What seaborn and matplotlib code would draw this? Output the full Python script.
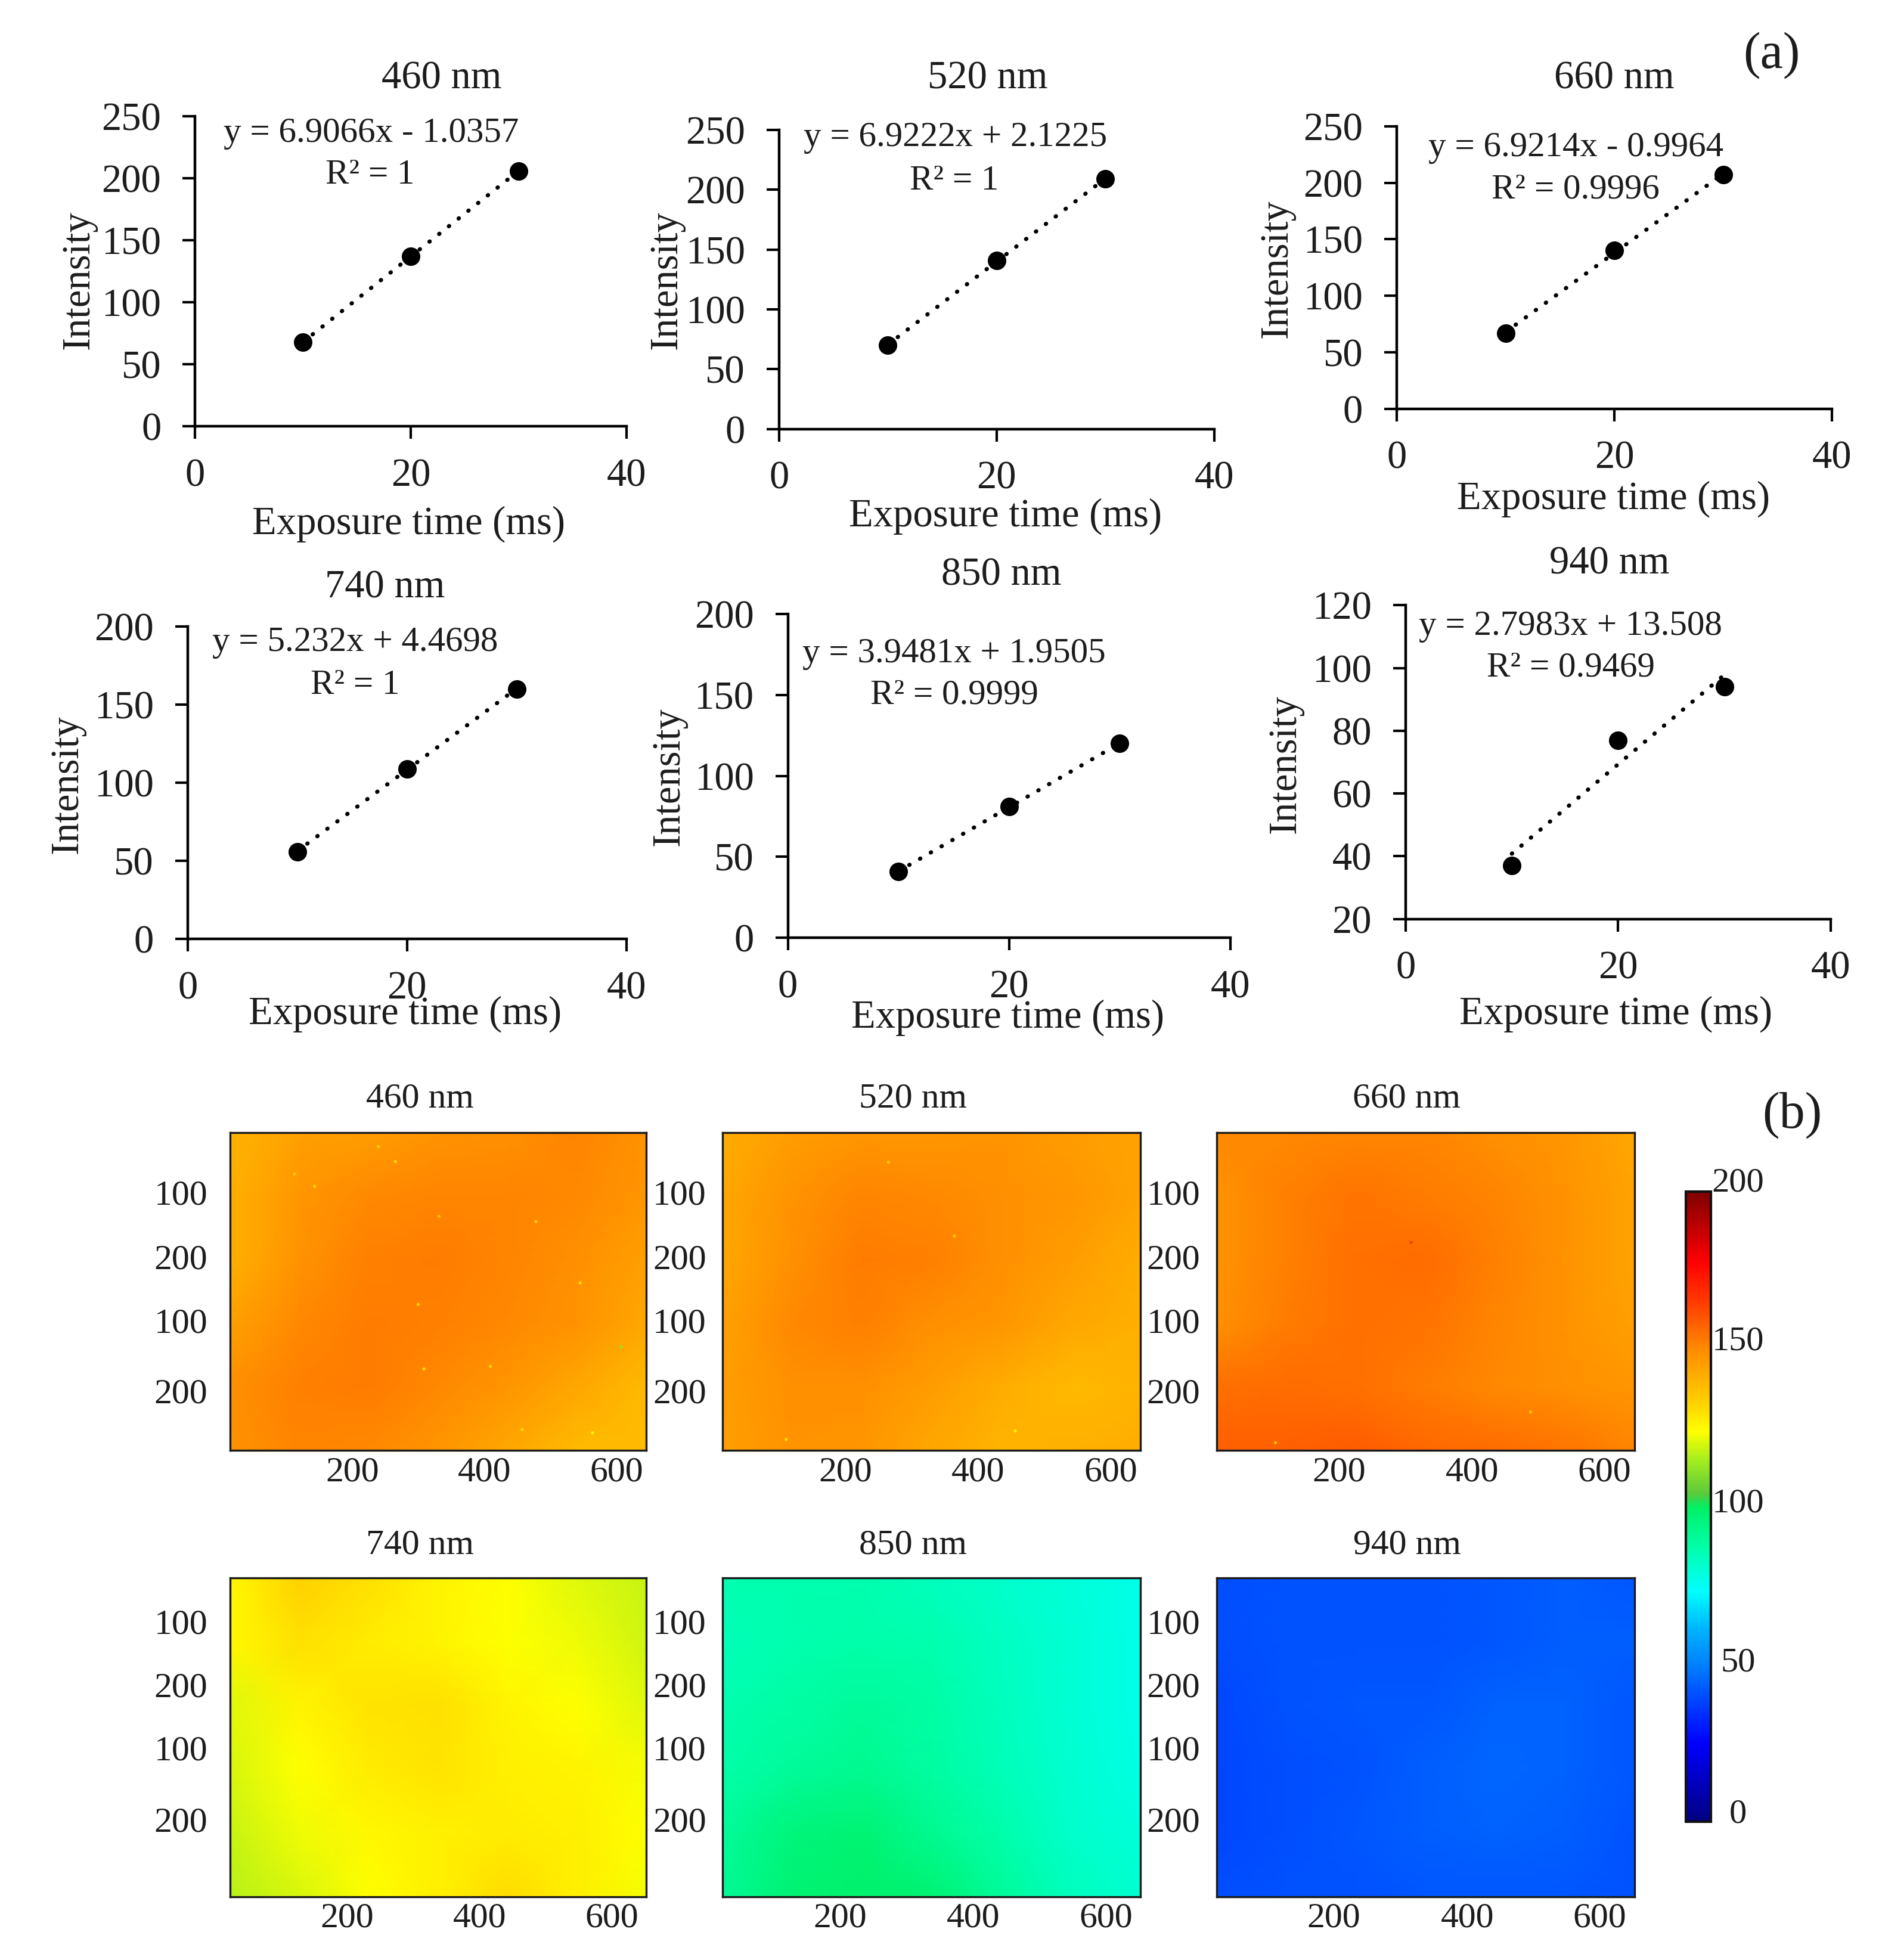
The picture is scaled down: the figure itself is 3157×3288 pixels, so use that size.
import numpy as np
import pandas as pd
import matplotlib
matplotlib.use('Agg')
import matplotlib.pyplot as plt
import seaborn as sns
from matplotlib.colors import LinearSegmentedColormap, Normalize
from matplotlib.transforms import ScaledTranslation

# values
exposure_ms = [10, 20, 30]
wavelengths = ['460 nm', '520 nm', '660 nm', '740 nm', '850 nm', '940 nm']
intensity_460 = [68, 137, 206]
intensity_520 = [70, 141, 209]
intensity_660 = [67, 140, 207]
intensity_740 = [56, 109, 160]
intensity_850 = [41, 81, 120]
intensity_940 = [37, 77, 94]
intensities = [intensity_460, intensity_520, intensity_660, intensity_740, intensity_850, intensity_940]
equations = ['y = 6.9066x - 1.0357', 'y = 6.9222x + 2.1225', 'y = 6.9214x - 0.9964',
             'y = 5.232x + 4.4698', 'y = 3.9481x + 1.9505', 'y = 2.7983x + 13.508']
r_squared = ['R² = 1', 'R² = 1', 'R² = 0.9996', 'R² = 1', 'R² = 0.9999', 'R² = 0.9469']
y_ticks_a = [[0, 50, 100, 150, 200, 250]] * 3 + [[0, 50, 100, 150, 200]] * 2 + [[20, 40, 60, 80, 100, 120]]
x_ticks_a = [0, 20, 40]

# coarse intensity maps, 6 rows x 7 columns, read by colour
map_460 = [[140, 145, 146, 148, 149, 151, 148],
           [141, 147, 150, 151, 151, 150, 147],
           [141, 148, 152, 153, 151, 149, 145],
           [145, 150, 153, 152, 150, 148, 143],
           [149, 152, 153, 150, 147, 143, 139],
           [148, 151, 150, 147, 143, 139, 138]]
map_520 = [[142, 146, 147, 147, 148, 146, 144],
           [143, 148, 151, 150, 149, 147, 144],
           [143, 149, 153, 152, 149, 146, 142],
           [145, 150, 152, 149, 147, 143, 141],
           [146, 149, 149, 146, 142, 139, 140],
           [145, 148, 147, 143, 140, 141, 142]]
map_660 = [[150, 150, 151, 151, 149, 147, 143],
           [148, 152, 154, 153, 151, 148, 144],
           [148, 152, 155, 156, 152, 148, 144],
           [149, 153, 155, 154, 151, 148, 145],
           [155, 156, 155, 153, 150, 149, 147],
           [158, 158, 159, 157, 156, 154, 151]]
map_740 = [[125, 133, 130, 126, 124, 121, 118],
           [125, 130, 128, 126, 124, 122, 119],
           [121, 126, 129, 130, 126, 124, 121],
           [120, 124, 128, 129, 127, 126, 123],
           [118, 122, 125, 127, 128, 127, 124],
           [117, 120, 124, 127, 131, 127, 123]]
map_850 = [[86, 86, 86, 84, 82, 79, 77],
           [85, 86, 87, 86, 83, 80, 77],
           [86, 88, 90, 88, 84, 80, 77],
           [87, 90, 92, 89, 85, 81, 78],
           [90, 96, 97, 92, 87, 82, 79],
           [91, 97, 99, 97, 90, 84, 81]]
map_940 = [[40, 41, 41, 41, 42, 43, 42],
           [40, 41, 41, 41, 42, 43, 43],
           [39, 41, 42, 42, 44, 44, 42],
           [39, 40, 41, 43, 45, 44, 42],
           [39, 40, 42, 43, 44, 43, 41],
           [40, 41, 41, 42, 42, 42, 41]]
maps = [map_460, map_520, map_660, map_740, map_850, map_940]

# bright specks on the maps: x, y, value
specks_460 = [(135, 90, 132), (259, 52, 130), (543, 238, 130), (606, 336, 112), (294, 271, 132), (454, 463, 130),
              (562, 468, 125), (405, 366, 133), (326, 136, 134), (475, 144, 133), (104, 71, 134), (233, 29, 134),
              (303, 370, 130)]
specks_520 = [(453, 465, 125), (259, 53, 134), (102, 478, 130), (360, 166, 134)]
specks_660 = [(303, 176, 165), (95, 483, 135), (486, 436, 135)]
specks = [specks_460, specks_520, specks_660, [], [], []]

map_x_ticks = [200, 400, 600]
map_y_ticks = [100, 200, 300, 400]
map_y_labels = ['100', '200', '100', '200']
cbar_ticks = [0, 50, 100, 150, 200]

# colorbar
cmap_stops = [0, 25, 50, 61, 73, 87, 100, 104, 115, 124, 133, 150, 165, 178, 200]
cmap_colors = ['#000082', '#0000ff', '#0082ff', '#00b4ff', '#00ffff', '#00ffaa', '#00f064', '#5ac83c', '#a5ee1e',
               '#ffff00', '#ffd200', '#ff8c00', '#ff3c00', '#ff0000', '#800000']

# layout, in px of the 3157x3288 picture
W, H = 3157, 3288
S = 3157 / 1505
# left, right, top, bottom
scatter_boxes = [(156, 501, 93, 341), (623, 971, 104, 343), (1117, 1465, 101, 327),
                 (150, 501, 501, 751), (630, 984, 491, 750), (1124, 1464, 484, 735)]
title_pos = [(353, 63), (790, 63), (1291, 63), (308, 470), (801, 460), (1287, 451)]
xlabel_pos = [(327, 419), (804, 413), (1290, 399), (324, 811), (806, 814), (1292, 811)]
ylabel_pos = [(63, 224), (533, 224), (1021, 215), (54, 627), (535, 621), (1028, 611)]
eq_pos = [(297, 107), (764, 110), (1260, 118), (284, 514), (763, 523), (1256, 501)]
r2_pos = [(296, 140), (763, 145), (1260, 152), (284, 548), (763, 556), (1256, 534)]
map_boxes = [(184, 517, 906, 1160), (578, 912, 906, 1160), (973, 1307, 906, 1160),
             (184, 517, 1262, 1517), (578, 912, 1262, 1517), (973, 1307, 1262, 1517)]
map_titles = [(336, 879), (730, 879), (1125, 879), (336, 1236), (730, 1236), (1125, 1236)]
map_xshift = [[-8, -4, -1], [-17, -12, -9]]
map_yshift = [[1, 3, 5, -4], [28, 32, 36, 26]]
cbar_yshift = [19, 9, 11, 19, 21]
cbar_box = (1348, 1368, 953, 1457)

MAP_X = (5, 645)
MAP_Y = (8, 495)
INK = '#1c1c1c'


def add_box(left, right, top, bottom):
    return fig.add_axes([left * S / W, 1 - bottom * S / H, (right - left) * S / W, (bottom - top) * S / H])


def frac(box, x, y):
    return (x - box[0]) / (box[1] - box[0]), (box[3] - y) / (box[3] - box[2])


def shift(label, dx, dy):
    label.set_transform(label.get_transform() + ScaledTranslation(dx / 100, dy / 100, fig.dpi_scale_trans))


sns.set_theme(style='white')
plt.rcParams['font.family'] = ['Liberation Serif', 'DejaVu Serif']
plt.rcParams['text.color'] = INK
plt.rcParams['axes.labelcolor'] = INK
plt.rcParams['xtick.color'] = 'black'
plt.rcParams['ytick.color'] = 'black'

fig = plt.figure(figsize=(W / 100, H / 100), dpi=100)

# (a) exposure time curves
for i, name in enumerate(wavelengths):
    box = scatter_boxes[i]
    ax = add_box(*box)
    df = pd.DataFrame({'x': exposure_ms, 'y': intensities[i]})
    sns.regplot(data=df, x='x', y='y', ax=ax, ci=None, color='black',
                scatter_kws={'s': 500, 'alpha': 1, 'linewidths': 0},
                line_kws={'linestyle': (0, (0.1, 2.9)), 'linewidth': 5, 'dash_capstyle': 'round'})
    ax.set_xlim(0, 40)
    ax.set_ylim(y_ticks_a[i][0], y_ticks_a[i][-1])
    ax.set_xticks(x_ticks_a)
    ax.set_yticks(y_ticks_a[i])
    sns.despine(ax=ax)
    for side in ['left', 'bottom']:
        ax.spines[side].set_linewidth(3.2)
        ax.spines[side].set_color('black')
    ax.tick_params(axis='x', length=15, width=3, pad=23, labelsize=48, labelcolor=INK, bottom=True)
    ax.tick_params(axis='y', length=15, width=3, pad=26, labelsize=48, labelcolor=INK, left=True)
    ax.set_title(name, fontsize=48, va='center', pad=0, x=frac(box, *title_pos[i])[0], y=frac(box, *title_pos[i])[1])
    ax.set_xlabel('Exposure time (ms)', fontsize=48, va='center', ha='center')
    ax.xaxis.set_label_coords(*frac(box, *xlabel_pos[i]))
    ax.set_ylabel('Intensity', fontsize=48, va='center', ha='center')
    ax.yaxis.set_label_coords(*frac(box, *ylabel_pos[i]))
    ax.text(*frac(box, *eq_pos[i]), equations[i], transform=ax.transAxes, fontsize=42.5, ha='center', va='center')
    ax.text(*frac(box, *r2_pos[i]), r_squared[i], transform=ax.transAxes, fontsize=42.5, ha='center', va='center')

# (b) intensity maps
cmap = LinearSegmentedColormap.from_list('reference', [(s / 200, c) for s, c in zip(cmap_stops, cmap_colors)], N=256)
norm = Normalize(0, 200)
for i, name in enumerate(wavelengths):
    box = map_boxes[i]
    ax = add_box(*box)
    grid = np.array(maps[i], dtype=float)
    rows, cols = grid.shape
    mesh_x = lambda v: (np.asarray(v, dtype=float) - MAP_X[0]) / (MAP_X[1] - MAP_X[0]) * (cols - 1)
    mesh_y = lambda v: (np.asarray(v, dtype=float) - MAP_Y[0]) / (MAP_Y[1] - MAP_Y[0]) * (rows - 1)
    sns.heatmap(pd.DataFrame(grid), ax=ax, cmap=cmap, vmin=0, vmax=200, cbar=False, xticklabels=False,
                yticklabels=False, shading='gouraud')
    mesh = ax.collections[0]
    if specks[i]:
        sx, sy, sv = zip(*specks[i])
        sns.scatterplot(x=mesh_x(sx), y=mesh_y(sy), hue=list(sv), palette=cmap, hue_norm=norm, s=14, linewidth=0,
                        legend=False, ax=ax)
    ax.set_xlim(0, cols - 1)
    ax.set_ylim(rows - 1, 0)
    ax.set_xticks(mesh_x(map_x_ticks))
    ax.set_xticklabels([str(v) for v in map_x_ticks])
    ax.set_yticks(mesh_y(map_y_ticks))
    ax.set_yticklabels(map_y_labels, rotation=0)
    ax.set_xlabel('')
    ax.set_ylabel('')
    for side in ax.spines:
        ax.spines[side].set_visible(True)
        ax.spines[side].set_linewidth(2.4)
        ax.spines[side].set_color('#1a1a1a')
    ax.tick_params(axis='x', direction='in', length=7, width=2.4, top=True, bottom=True, pad=7, labelsize=43,
                   labelcolor=INK, labelrotation=0)
    ax.tick_params(axis='y', direction='in', length=7, width=2.4, left=True, right=True,
                   pad=27 if i % 3 == 0 else 20, labelsize=43, labelcolor=INK)
    row = i // 3
    for lab, dx in zip(ax.get_xticklabels(), map_xshift[row]):
        shift(lab, dx, 0)
    for lab, dy in zip(ax.get_yticklabels(), map_yshift[row]):
        shift(lab, 0, dy)
    ax.set_title(name, fontsize=43, va='center', pad=0, x=frac(box, *map_titles[i])[0], y=frac(box, *map_titles[i])[1])

# colorbar
cax = add_box(*cbar_box)
cbar = fig.colorbar(mesh, cax=cax, ticks=cbar_ticks)
cbar.outline.set_linewidth(3)
cbar.outline.set_edgecolor('#111111')
cax.tick_params(axis='y', direction='in', length=6, width=2.6, left=True, right=True, color='black', pad=33,
                labelsize=42, labelcolor=INK)
for lab, dy in zip(cax.get_yticklabels(), cbar_yshift):
    lab.set_ha('center')
    shift(lab, 0, dy)

# panel letters
fig.text(1417 * S / W, 1 - 44 * S / H, '(a)', fontsize=62, ha='center', va='center')
fig.text(1433 * S / W, 1 - 892 * S / H, '(b)', fontsize=62, ha='center', va='center')

fig.savefig('out.png', dpi=100, facecolor='white')
